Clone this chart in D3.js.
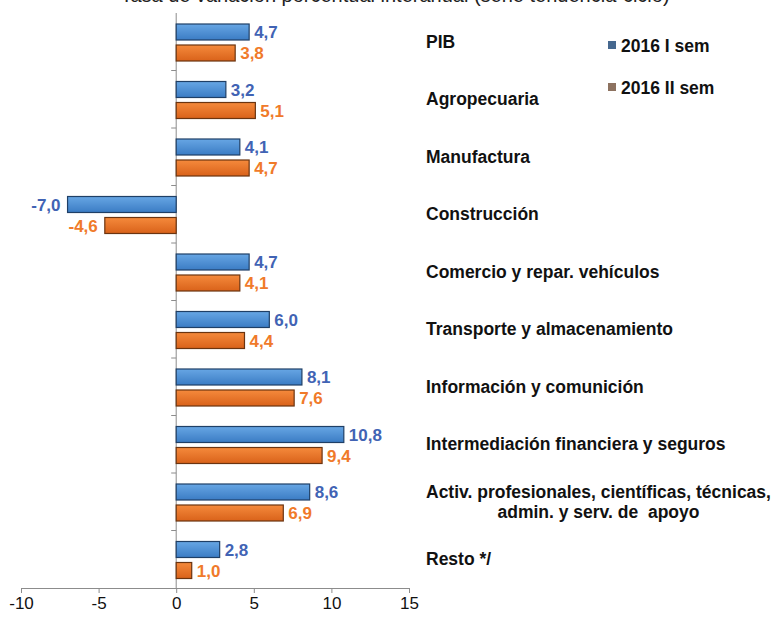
<!DOCTYPE html>
<html><head><meta charset="utf-8">
<script src="https://cdn.jsdelivr.net/npm/d3@7"></script>
<style>body{margin:0;background:#fff}svg{display:block;font-family:"Liberation Sans",Arial,sans-serif}text{white-space:pre}</style>
</head><body>
<svg id="c" width="774" height="617"></svg>
<script>
const categories = ["PIB","Agropecuaria","Manufactura","Construcción","Comercio y repar. vehículos","Transporte y almacenamiento","Información y comunición","Intermediación financiera y seguros","Activ. profesionales, científicas, técnicas,|admin. y serv. de  apoyo","Resto */"];
const sem1 = [4.7,3.2,4.1,-7.0,4.7,6.0,8.1,10.8,8.6,2.8];
const sem2 = [3.8,5.1,4.7,-4.6,4.1,4.4,7.6,9.4,6.9,1.0];
const seriesNames = ["2016 I sem","2016 II sem"];
const xTicks = [-10,-5,0,5,10,15];
const title = "Tasa de variación porcentual interanual (serie tendencia-ciclo)";

const svg = d3.select("#c");
const defs = svg.append("defs");
function grad(id, c1, c2){
  const g = defs.append("linearGradient").attr("id",id).attr("x1",0).attr("y1",0).attr("x2",0).attr("y2",1);
  g.append("stop").attr("offset","0%").attr("stop-color",c1);
  g.append("stop").attr("offset","100%").attr("stop-color",c2);
}
grad("gb","#67a6e4","#3b7cc4");
grad("go","#f58a3c","#d9621a");

const x = d3.scaleLinear().domain([-10,15]).range([21,409]);
const y = d3.scaleBand().domain(categories).range([13,588]);
const bh = 16, gap = 5;

svg.append("text").attr("x",395).attr("y",2).attr("text-anchor","middle")
  .attr("font-size",20).attr("fill","#222").text(title);

// y axis line with ticks
svg.append("line").attr("x1",x(0)).attr("x2",x(0)).attr("y1",13).attr("y2",588).attr("stroke","#8c8c8c");
categories.forEach((c,i)=>{ if(i>0) svg.append("line").attr("x1",x(0)-5).attr("x2",x(0)).attr("y1",y(c)).attr("y2",y(c)).attr("stroke","#8c8c8c"); });

// x axis
const xa = svg.append("g").attr("transform","translate(0,588)")
  .call(d3.axisBottom(x).tickValues(xTicks).tickSize(5).tickPadding(4).tickFormat(d=>String(d)));
xa.select(".domain").attr("stroke","#8c8c8c");
xa.selectAll(".tick line").attr("stroke","#8c8c8c");
xa.selectAll("text").attr("font-size",17).attr("fill","#111").attr("font-family","Liberation Sans, Arial, sans-serif");

const fmt = v => v.toFixed(1).replace(".",",");
const series = [{vals:sem1, fill:"url(#gb)", stroke:"#1f3f66", lab:"#4163b4", off:11},
                {vals:sem2, fill:"url(#go)", stroke:"#6b3410", lab:"#f07a2a", off:11+bh+gap}];
series.forEach(s=>{
  const g = svg.append("g");
  g.selectAll("rect").data(categories).join("rect")
    .attr("x",(d,i)=>x(Math.min(0,s.vals[i])))
    .attr("y",d=>y(d)+s.off)
    .attr("width",(d,i)=>Math.abs(x(s.vals[i])-x(0)))
    .attr("height",bh)
    .attr("fill",s.fill).attr("stroke",s.stroke).attr("stroke-width",1.2);
  g.selectAll("text").data(categories).join("text")
    .attr("x",(d,i)=>s.vals[i]>=0 ? x(s.vals[i])+5 : x(s.vals[i])-7)
    .attr("text-anchor",(d,i)=>s.vals[i]>=0?"start":"end")
    .attr("y",d=>y(d)+s.off+bh/2+6)
    .attr("font-size",17).attr("font-weight","bold").attr("fill",s.lab)
    .text((d,i)=>fmt(s.vals[i]));
});

// category labels
categories.forEach(c=>{
  const parts = c.split("|");
  const cy = y(c)+y.bandwidth()/2;
  if(parts.length===1){
    svg.append("text").attr("x",426).attr("y",cy+6).attr("font-size",17.5).attr("font-weight","bold").attr("fill","#111").text(c);
  } else {
    const t1 = svg.append("text").attr("x",426).attr("y",cy-4).attr("font-size",17.5).attr("font-weight","bold").attr("fill","#111").text(parts[0]);
    const w = t1.node().getComputedTextLength();
    svg.append("text").attr("x",426+w/2).attr("y",cy+16).attr("text-anchor","middle").attr("font-size",17.5).attr("font-weight","bold").attr("fill","#111").text(parts[1]);
  }
});

// legend
const legCols = ["#46688f","#8d7260"];
seriesNames.forEach((n,i)=>{
  const ly = 52 + i*42;
  svg.append("rect").attr("x",608).attr("y",ly-11).attr("width",8).attr("height",8).attr("fill",legCols[i]);
  svg.append("text").attr("x",621).attr("y",ly).attr("font-size",17.5).attr("font-weight","bold").attr("fill","#111").text(n);
});
</script>
</body></html>
